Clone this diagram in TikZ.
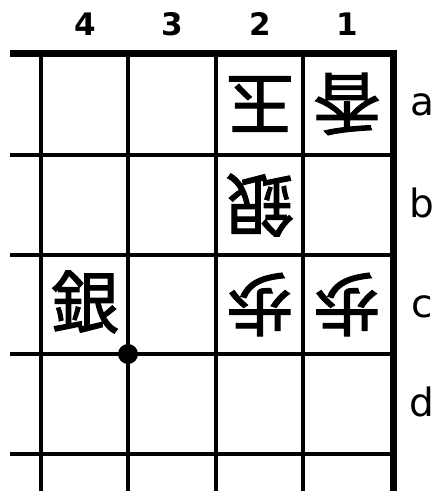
\documentclass[tikz,border=0pt]{standalone}
\usepackage{fontspec}
\setmainfont{DejaVu Sans}
\newfontfamily\cjk{Noto Sans CJK JP}[FakeBold=1.5]
\begin{document}
\begin{tikzpicture}[x=1pt,y=-1pt,
  thinline/.style={line width=3.3pt},
  thickline/.style={line width=7pt},
  collabel/.style={anchor=base,inner sep=0pt,font=\fontsize{31}{31}\selectfont\bfseries},
  rowlabel/.style={anchor=base,inner sep=0pt,font=\fontsize{39}{39}\selectfont},
  piece/.style={inner sep=0pt,font=\fontsize{68}{68}\selectfont\cjk},
  gote/.style={piece,rotate=180}]
\useasboundingbox (0,0) rectangle (435,491);
% grid
\foreach \x in {41,128,216,303} \draw[thinline] (\x,53.5) -- (\x,491);
\foreach \y in {155,255,354,454} \draw[thinline] (10,\y) -- (390,\y);
\draw[thickline] (10,53.5) -- (397,53.5);
\draw[thickline] (393.5,50) -- (393.5,491);
% column labels
\node[collabel] (c4) at (85,35) {4};
\node[collabel] (c3) at (172,35) {3};
\node[collabel] (c2) at (260,35) {2};
\node[collabel] (c1) at (347,35) {1};
% row labels
\node[rowlabel] (ra) at (422,115) {a};
\node[rowlabel] (rb) at (422,217) {b};
\node[rowlabel] (rc) at (422,317) {c};
\node[rowlabel] (rd) at (422,416) {d};
% pieces
\node[gote] (p2a) at (260,104) {玉};
\node[gote] (p1a) at (347,104) {香};
\node[gote] (p2b) at (260,205) {銀};
\node[gote] (p2c) at (260,304.5) {歩};
\node[gote] (p1c) at (347,304.5) {歩};
\node[piece] (p4c) at (85,302) {銀};
% dot
\fill (128,354) circle[radius=10];
\end{tikzpicture}
\end{document}
